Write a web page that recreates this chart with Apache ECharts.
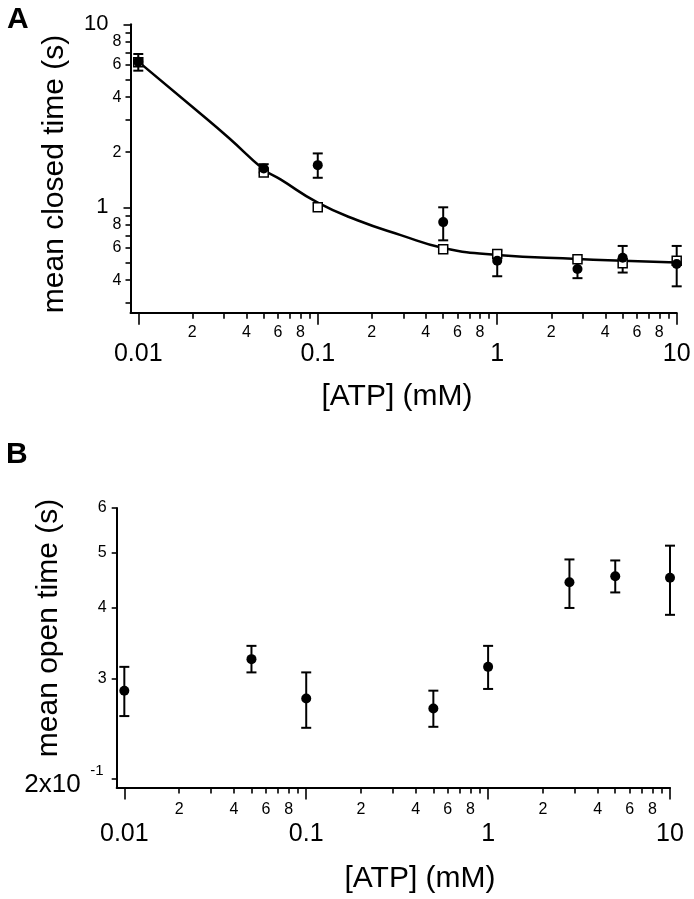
<!DOCTYPE html>
<html>
<head>
<meta charset="utf-8">
<script src="https://cdn.jsdelivr.net/npm/echarts@6/dist/echarts.min.js"></script>
<style>
  html, body { margin: 0; padding: 0; background: #fff; }
  #chart { width: 694px; height: 899px; }
</style>
</head>
<body>
<div id="chart"></div>
<script>
// ---------- data ----------
const atp = [0.01, 0.05, 0.1, 0.5, 1, 2.8, 5, 10];

// Panel A: mean closed time (s)
const closedMean = [6.25, 1.63, 1.70, 0.83, 0.51, 0.46, 0.53, 0.49];
const closedLow  = [5.58, 1.55, 1.45, 0.66, 0.42, 0.41, 0.44, 0.37];
const closedHigh = [6.88, 1.72, 1.97, 1.00, 0.58, 0.52, 0.615, 0.615];
const closedSquares = [6.2, 1.55, 1.0, 0.59, 0.556, 0.52, 0.494, 0.511];
const fitAtp    = [0.01, 0.021, 0.032, 0.05, 0.062, 0.1, 0.165, 0.29, 0.5, 1, 2.8, 5, 10];
const fitClosed = [6.25, 3.40, 2.39, 1.61, 1.42, 1.06, 0.852, 0.705, 0.60, 0.549, 0.522, 0.511, 0.50];

// Panel B: mean open time (s)
const openMean = [2.86, 3.25, 2.77, 2.66, 3.15, 4.44, 4.55, 4.52];
const openLow  = [2.58, 3.08, 2.46, 2.47, 2.88, 4.00, 4.26, 3.89];
const openHigh = [3.15, 3.43, 3.08, 2.86, 3.43, 4.87, 4.85, 5.15];

// ticks and tick labels
const xMajorTicks  = [0.01, 0.1, 1, 10];
const xMajorLabels = ['0.01', '0.1', '1', '10'];
const xMinorTicks  = [0.02,0.03,0.04,0.05,0.06,0.07,0.08,0.09, 0.2,0.3,0.4,0.5,0.6,0.7,0.8,0.9, 2,3,4,5,6,7,8,9];
const xMinorLabeled = [0.02,0.04,0.06,0.08, 0.2,0.4,0.6,0.8, 2,4,6,8];
const xMinorLabels  = ['2','4','6','8', '2','4','6','8', '2','4','6','8'];

const yAMajorTicks  = [1, 10];
const yAMajorLabels = ['1', '10'];
const yAMinorTicks  = [0.3,0.4,0.5,0.6,0.7,0.8,0.9, 2,3,4,5,6,7,8,9];
const yAMinorLabeled = [0.4,0.6,0.8, 2,4,6,8];
const yAMinorLabels  = ['4','6','8', '2','4','6','8'];

const yBTicks   = [2, 3, 4, 5, 6];
const yBLabeled = [3, 4, 5, 6];
const yBLabels  = ['3', '4', '5', '6'];
const yBBottomTick = [2];
const yBBottomMantissa = ['2x10'];
const yBBottomExponent = ['-1'];

const titleA_y = 'mean closed time (s)';
const titleB_y = 'mean open time (s)';
const titleX = '[ATP] (mM)';

// ---------- helpers ----------
const FONT = '"Liberation Sans", Arial, Helvetica, sans-serif';
const L = Math.log10;
function fmt(vals, labels) {
  return function (v) {
    for (let i = 0; i < vals.length; i++) {
      if (Math.abs(L(vals[i]) - v) < 1e-6) return labels[i];
    }
    return '';
  };
}
function deco(dim, grid, min, max, o) {
  const label = o.labeled ? {
    show: true, customValues: o.labeled.map(L), formatter: fmt(o.labeled, o.labels),
    margin: o.margin, fontSize: o.fontSize, color: '#000', fontFamily: FONT
  } : { show: false };
  if (o.verticalAlign) label.verticalAlign = o.verticalAlign;
  if (o.lineHeight) label.lineHeight = o.lineHeight;
  return {
    type: 'value', gridIndex: grid,
    position: dim === 'x' ? 'bottom' : 'left',
    min: L(min), max: L(max),
    axisLine: { show: !!o.line, onZero: false, lineStyle: { color: '#000', width: 2 } },
    axisTick: o.ticks ? { show: true, customValues: o.ticks.map(L), length: o.tickLen,
                          lineStyle: { color: '#000', width: 1.6 } } : { show: false },
    axisLabel: label,
    splitLine: { show: false }, minorTick: { show: false }, minorSplitLine: { show: false }
  };
}
function logAxis(grid, min, max) {
  return { type: 'log', logBase: 10, gridIndex: grid, min: min, max: max, show: false,
           axisLine: { onZero: false }, splitLine: { show: false } };
}
function errRender(params, api) {
  const x = api.value(0), lo = api.value(1), hi = api.value(2);
  const p1 = api.coord([x, hi]);
  const p2 = api.coord([x, lo]);
  const w = 5;
  const st = { stroke: '#000', lineWidth: 2 };
  return {
    type: 'group',
    children: [
      { type: 'line', shape: { x1: p1[0], y1: p1[1], x2: p2[0], y2: p2[1] }, style: st },
      { type: 'line', shape: { x1: p1[0] - w, y1: p1[1], x2: p1[0] + w, y2: p1[1] }, style: st },
      { type: 'line', shape: { x1: p2[0] - w, y1: p2[1], x2: p2[0] + w, y2: p2[1] }, style: st }
    ]
  };
}

// ---------- ranges ----------
const A = { xmin: 0.00905, xmax: 10, ymin: 0.2655, ymax: 10 };
const B = { xmin: 0.00908, xmax: 10, ymin: 1.931, ymax: 6 };

const chart = echarts.init(document.getElementById('chart'), null, { renderer: 'canvas' });
chart.setOption({
  backgroundColor: '#fff',
  animation: false,
  grid: [
    { left: 130.5, top: 24.3, width: 546.2, height: 288.4 },
    { left: 116.7, top: 508, width: 553.3, height: 279.5 }
  ],
  xAxis: [
    logAxis(0, A.xmin, A.xmax),
    deco('x', 0, A.xmin, A.xmax, { line: true, ticks: xMinorTicks, tickLen: 6,
      labeled: xMinorLabeled, labels: xMinorLabels, margin: 12, fontSize: 16 }),
    deco('x', 0, A.xmin, A.xmax, { ticks: xMajorTicks, tickLen: 12,
      labeled: xMajorTicks, labels: xMajorLabels, margin: 29, fontSize: 25 }),
    logAxis(1, B.xmin, B.xmax),
    deco('x', 1, B.xmin, B.xmax, { line: true, ticks: xMinorTicks, tickLen: 6,
      labeled: xMinorLabeled, labels: xMinorLabels, margin: 14, fontSize: 16 }),
    deco('x', 1, B.xmin, B.xmax, { ticks: xMajorTicks, tickLen: 12,
      labeled: xMajorTicks, labels: xMajorLabels, margin: 34, fontSize: 25 })
  ],
  yAxis: [
    logAxis(0, A.ymin, A.ymax),
    deco('y', 0, A.ymin, A.ymax, { line: true, ticks: yAMinorTicks, tickLen: 5,
      labeled: yAMinorLabeled, labels: yAMinorLabels, margin: 9, fontSize: 16 }),
    deco('y', 0, A.ymin, A.ymax, { ticks: yAMajorTicks, tickLen: 7,
      labeled: yAMajorTicks, labels: yAMajorLabels, margin: 22, fontSize: 22 }),
    logAxis(1, B.ymin, B.ymax),
    deco('y', 1, B.ymin, B.ymax, { line: true, ticks: yBTicks, tickLen: 5,
      labeled: yBLabeled, labels: yBLabels, margin: 10, fontSize: 16 }),
    deco('y', 1, B.ymin, B.ymax, { labeled: yBBottomTick, labels: yBBottomMantissa,
      margin: 36, fontSize: 26, verticalAlign: 'top', lineHeight: 12 }),
    deco('y', 1, B.ymin, B.ymax, { labeled: yBBottomTick, labels: yBBottomExponent,
      margin: 13, fontSize: 15, verticalAlign: 'bottom', lineHeight: 16 })
  ],
  series: [
    { type: 'line', xAxisIndex: 0, yAxisIndex: 0, z: 2,
      data: fitAtp.map((x, i) => [x, fitClosed[i]]),
      smooth: 0.5, symbol: 'none', lineStyle: { color: '#000', width: 2.5 } },
    { type: 'custom', xAxisIndex: 0, yAxisIndex: 0, z: 3, renderItem: errRender,
      encode: { x: 0, y: [1, 2] },
      data: atp.map((x, i) => [x, closedLow[i], closedHigh[i]]) },
    { type: 'scatter', xAxisIndex: 0, yAxisIndex: 0, z: 4, symbol: 'rect', symbolSize: 9,
      itemStyle: { color: '#fff', borderColor: '#000', borderWidth: 1.5, opacity: 1 },
      data: atp.map((x, i) => [x, closedSquares[i]]) },
    { type: 'scatter', xAxisIndex: 0, yAxisIndex: 0, z: 5, symbol: 'circle', symbolSize: 10,
      itemStyle: { color: '#000', opacity: 1 },
      data: atp.map((x, i) => [x, closedMean[i]]) },

    { type: 'custom', xAxisIndex: 3, yAxisIndex: 3, z: 3, renderItem: errRender,
      encode: { x: 0, y: [1, 2] },
      data: atp.map((x, i) => [x, openLow[i], openHigh[i]]) },
    { type: 'scatter', xAxisIndex: 3, yAxisIndex: 3, z: 5, symbol: 'circle', symbolSize: 10,
      itemStyle: { color: '#000', opacity: 1 },
      data: atp.map((x, i) => [x, openMean[i]]) }
  ],
  graphic: [
    { type: 'text', left: 7, top: 5, style: { text: 'A', font: 'bold 30px ' + FONT, fill: '#000' } },
    { type: 'text', left: 6, top: 440, style: { text: 'B', font: 'bold 30px ' + FONT, fill: '#000' } },
    { type: 'text', x: 55, y: 174, rotation: Math.PI / 2,
      style: { text: titleA_y, font: '30px ' + FONT, fill: '#000', align: 'center', verticalAlign: 'middle' } },
    { type: 'text', x: 49, y: 628, rotation: Math.PI / 2,
      style: { text: titleB_y, font: '30px ' + FONT, fill: '#000', align: 'center', verticalAlign: 'middle' } },
    { type: 'text', x: 397, y: 397,
      style: { text: titleX, font: '30px ' + FONT, fill: '#000', align: 'center', verticalAlign: 'middle' } },
    { type: 'text', x: 420, y: 879,
      style: { text: titleX, font: '30px ' + FONT, fill: '#000', align: 'center', verticalAlign: 'middle' } }
  ]
});
</script>
</body>
</html>
